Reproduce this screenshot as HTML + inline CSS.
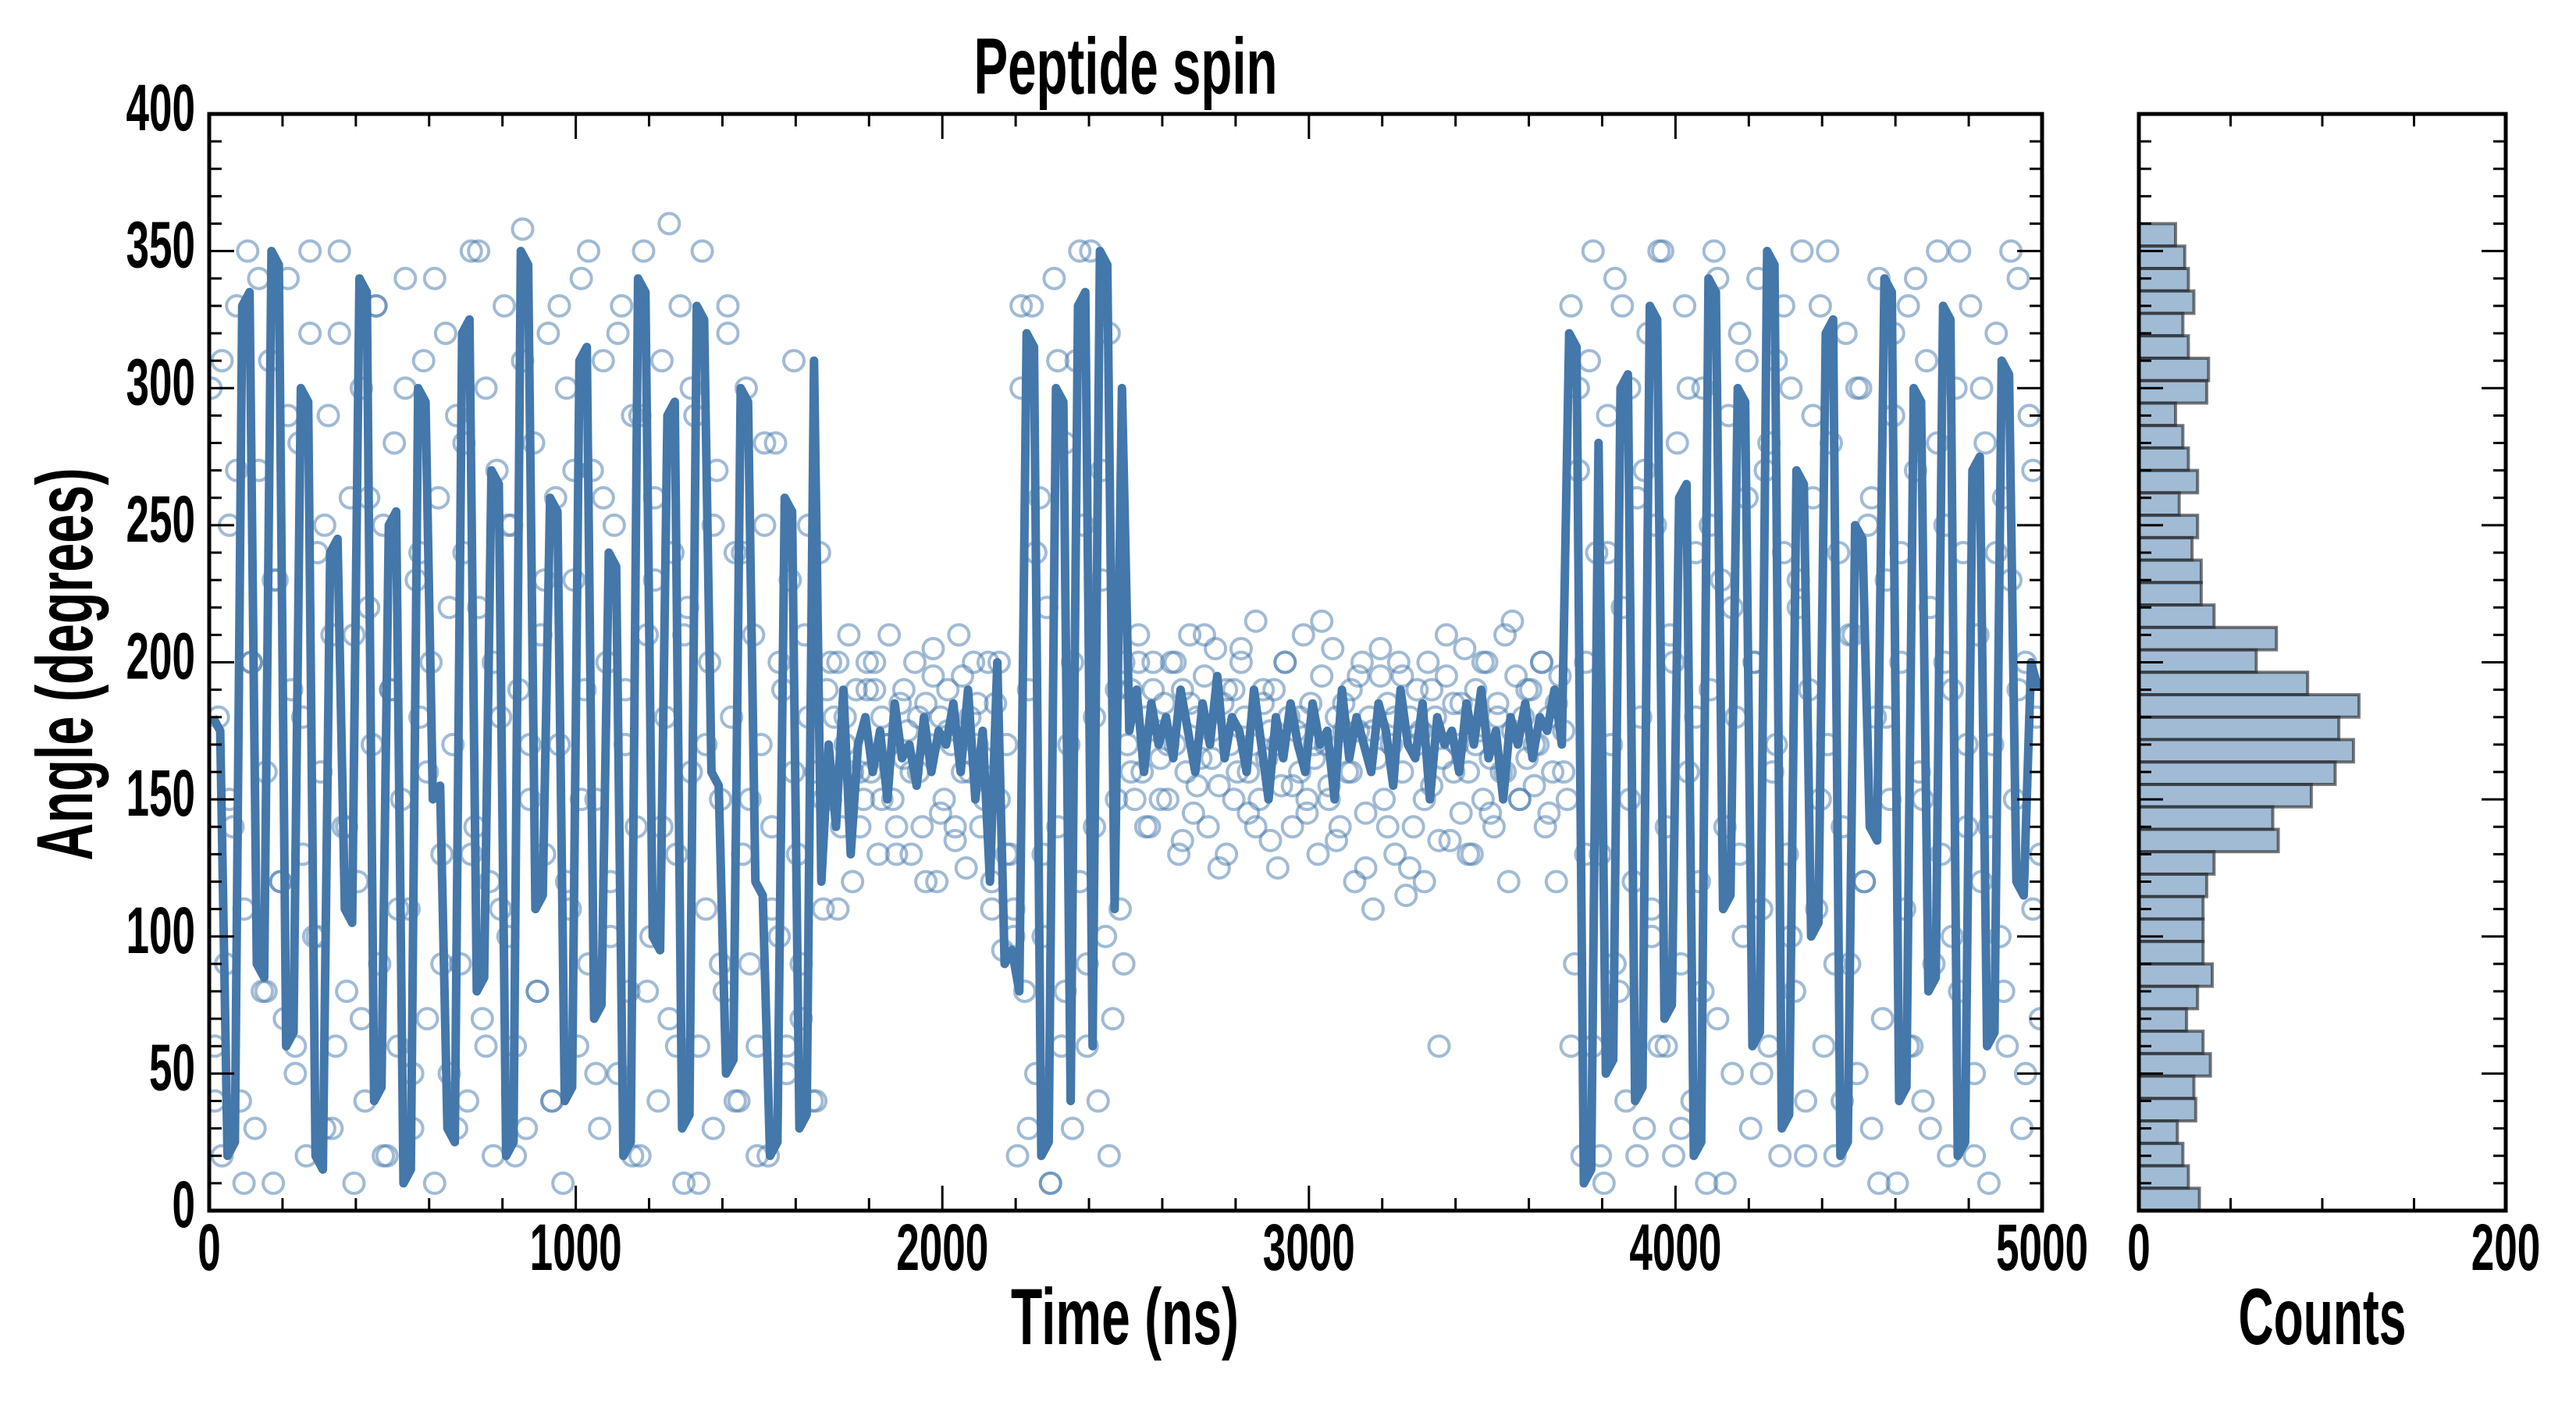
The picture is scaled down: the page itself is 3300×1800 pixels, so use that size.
<!DOCTYPE html>
<html><head><meta charset="utf-8"><title>Peptide spin</title>
<style>
html,body{margin:0;padding:0;background:#fff;}
svg{display:block;}
text{font-family:"Liberation Sans Narrow","Liberation Sans",sans-serif;font-weight:bold;fill:#000;}
</style></head>
<body>
<svg id="chart" width="3300" height="1800" viewBox="0 0 3300 1800" xmlns="http://www.w3.org/2000/svg">
  <defs>
    <clipPath id="mainClip"><rect x="268" y="146" width="2348" height="1405"/></clipPath>
  </defs>
  <rect width="3300" height="1800" fill="#fff"/>
  <g id="mainPlot"></g>
  <g id="histPlot"></g>
  <text x="1442" y="120" font-size="102" text-anchor="middle" textLength="389" lengthAdjust="spacingAndGlyphs">Peptide spin</text>
  <text x="1441" y="1722" font-size="102" text-anchor="middle" textLength="292" lengthAdjust="spacingAndGlyphs">Time (ns)</text>
  <text transform="translate(118,851) rotate(-90)" x="0" y="0" font-size="102" text-anchor="middle" textLength="503" lengthAdjust="spacingAndGlyphs">Angle (degrees)</text>
  <text x="2975" y="1722" font-size="102" text-anchor="middle" textLength="215" lengthAdjust="spacingAndGlyphs">Counts</text>
</svg>
<script>
const lineTimeStep = 20;
const lineValues = [
180,175,20,25,330,335,90,85,350,345,
60,65,300,295,20,15,240,245,110,105,
340,335,40,45,250,255,10,15,300,295,
150,155,30,25,320,325,80,85,270,265,
20,25,350,345,110,115,260,255,40,45,
310,315,70,75,240,235,20,25,340,335,
100,95,290,295,30,35,330,325,160,155,
50,55,300,295,120,115,20,25,260,255,
30,35,310,120,170,140,190,130,170,180,
160,175,150,185,165,170,155,180,160,175,
170,185,160,190,150,175,120,200,90,95,
80,320,315,20,25,300,295,40,330,335,
60,350,345,110,300,175,190,160,185,170,
180,165,190,175,160,185,170,195,165,180,
175,160,190,170,150,180,165,185,170,160,
185,170,175,150,190,165,180,170,160,185,
175,155,190,170,165,185,150,180,170,175,
160,185,170,190,165,175,150,180,170,185,
165,180,175,190,170,320,315,10,15,280,
50,55,300,305,40,45,330,325,70,75,
260,265,20,25,340,335,110,115,300,295,
60,65,350,345,30,35,270,265,100,105,
320,325,20,25,250,245,140,135,340,335,
40,45,300,295,80,85,330,325,20,25,
270,275,60,65,310,305,120,115,200,190
];
const scatterTimeStep = 10;
const scatterValues = [
300,60,180,20,90,250,140,330,40,110,
350,200,30,270,80,160,310,10,230,120,
70,340,190,50,280,130,20,320,100,240,
160,30,290,210,60,350,140,80,260,10,
120,300,40,220,170,330,90,250,20,190,
280,60,150,340,110,30,230,180,310,70,
200,10,260,130,320,50,170,290,90,240,
40,350,140,220,70,300,120,20,270,180,
330,100,250,60,190,358,30,150,280,80,
210,130,320,40,260,170,10,300,110,230,
60,340,190,90,270,150,30,310,200,120,
250,50,330,170,80,290,140,20,350,210,
100,260,40,310,180,70,240,130,330,10,
220,160,290,60,350,110,200,30,270,150,
80,320,180,240,40,130,300,90,210,60,
170,250,20,140,280,100,190,50,230,160,
130,70,210,180,40,160,240,110,190,150,
180,200,140,170,210,120,190,160,150,200,
160,190,130,180,170,210,150,140,185,165,
175,130,200,160,140,185,170,195,120,180,
150,190,170,140,210,160,125,180,200,170,
140,165,200,120,185,150,95,170,130,110,
20,300,80,190,330,50,260,100,220,10,
340,140,60,280,170,30,310,120,250,90,
350,180,40,230,100,320,70,150,110,200,
170,190,150,210,160,180,140,200,175,165,
185,150,200,170,130,190,160,210,145,180,
165,195,140,175,205,155,185,130,170,190,
160,200,180,145,170,215,150,185,165,135,
190,170,155,200,180,140,175,160,210,150,
185,165,130,195,170,150,205,180,140,175,
160,190,120,175,200,145,180,110,165,195,
150,185,170,130,200,160,115,180,140,190,
175,120,200,155,180,60,165,195,135,185,
170,145,205,160,130,190,175,150,200,165,
140,185,160,210,120,175,195,150,180,165,
190,155,170,200,140,180,160,120,195,175,
150,330,90,270,20,200,310,60,240,130,
10,290,170,340,80,220,40,300,120,260,
180,30,320,100,250,60,350,140,210,20,
280,90,330,160,40,240,120,300,10,190,
350,70,230,140,290,50,180,320,100,260,
30,200,340,110,270,60,160,310,20,240,
130,300,80,220,350,40,190,260,110,330,
60,170,280,20,240,140,320,90,210,50,
300,120,250,30,180,340,70,230,150,290,
10,200,110,330,60,270,160,40,310,220,
90,350,130,250,20,190,300,80,240,140,
330,50,210,120,280,10,170,320,100,260,
60,230,150,340,30,200,290,110,180,70
];
const scatterBTimeStep = 20;
const scatterValuesB = [
40,310,150,270,10,200,340,80,230,120,
290,60,180,350,100,250,30,320,140,210,
70,260,330,20,190,110,300,50,240,160,
340,90,220,30,280,130,350,60,200,110,
250,20,310,170,80,230,40,330,120,270,
150,350,50,260,100,320,190,20,290,80,
230,140,360,60,210,300,10,170,250,90,
330,40,240,150,20,280,110,200,60,310,
90,250,40,150,200,110,180,160,140,190,
200,150,170,130,190,160,180,120,205,145,
175,135,195,160,185,150,110,200,130,100,
330,30,240,130,10,310,80,200,350,60,
140,270,20,190,90,160,200,140,190,150,
170,200,135,185,155,210,165,125,190,150,
205,160,140,190,175,125,200,155,180,145,
170,215,155,135,185,160,195,125,175,205,
140,180,195,125,170,150,190,135,210,160,
185,130,170,200,145,180,160,215,150,190,
170,200,145,185,160,60,300,130,350,20,
240,90,330,150,20,270,110,350,60,200,
30,300,180,80,250,340,10,220,130,310,
200,50,280,170,330,100,230,20,290,150,
350,90,40,210,300,120,260,10,180,320,
240,60,340,150,30,280,200,100,350,170,
20,300,140,240,80,350,190,50,270,130
];
const histBinTop = 360;
const histBinCount = 44;
const histCountsTopDown = [20,25,27,30,24,27,38,37,20,24,27,32,22,32,29,34,34,41,75,64,92,120,109,117,107,94,73,76,41,37,35,35,35,40,32,26,35,39,30,31,21,24,27,33];
const xTickLabels = ["0","1000","2000","3000","4000","5000"];
const yTickLabels = ["0","50","100","150","200","250","300","350","400"];
const histTickLabels = ["0","200"];

const NS="http://www.w3.org/2000/svg";
const L=268,R=2616,T=146,B=1551;
const HL=2740,HR=3210;
const xScale=t=>L+(t/5000)*(R-L);
const yScale=v=>B-(v/400)*(B-T);
const hxScale=c=>HL+(c/200)*(HR-HL);
function mk(tag,attrs,parent){const e=document.createElementNS(NS,tag);for(const k in attrs)e.setAttribute(k,attrs[k]);parent.appendChild(e);return e;}
const main=document.getElementById('mainPlot');
const hist=document.getElementById('histPlot');

const sg=mk('g',{'clip-path':'url(#mainClip)'},main);


function addPoint(t,v){
  const c=mk('circle',{cx:xScale(t),cy:yScale(v),r:13,fill:'none',stroke:'#4477aa','stroke-opacity':0.5,'stroke-width':4},sg);
  
  
}
scatterValues.forEach((v,i)=>addPoint(i*scatterTimeStep+5,v));
scatterValuesB.forEach((v,i)=>addPoint(i*scatterBTimeStep+15,v));

const lg=mk('g',{'clip-path':'url(#mainClip)'},main);
let d='';
lineValues.forEach((v,i)=>{d+=(i?'L':'M')+xScale(i*lineTimeStep+10).toFixed(1)+','+yScale(v).toFixed(1);});
const path=mk('path',{d:d,fill:'none',stroke:'#4477aa','stroke-width':11,'stroke-linejoin':'round'},lg);



const tg=mk('g',{stroke:'#000','stroke-width':3},main);
for(let t=0;t<=5000;t+=200){
  const x=xScale(t), len=(t%1000===0)?32:16;
  mk('line',{x1:x,y1:B,x2:x,y2:B-len},tg);
  mk('line',{x1:x,y1:T,x2:x,y2:T+len},tg);
}
for(let v=0;v<=400;v+=10){
  const y=yScale(v), len=(v%50===0)?32:16;
  mk('line',{x1:L,y1:y,x2:L+len,y2:y},tg);
  mk('line',{x1:R,y1:y,x2:R-len,y2:y},tg);
}
const sp=mk('rect',{x:L,y:T,width:R-L,height:B-T,fill:'none',stroke:'#000','stroke-width':5},main);


xTickLabels.forEach((s,i)=>{
  const t=mk('text',{x:xScale(i*1000),y:1627,'font-size':84,'text-anchor':'middle',textLength:s.length*29.5,lengthAdjust:'spacingAndGlyphs'},main);
  t.textContent=s;
  
  
});
yTickLabels.forEach((s,i)=>{
  const t=mk('text',{x:250,y:yScale(i*50)+21,'font-size':84,'text-anchor':'end',textLength:s.length*29.5,lengthAdjust:'spacingAndGlyphs'},main);
  t.textContent=s;
  
  
});

const binW=histBinTop/histBinCount;
histCountsTopDown.forEach((c,i)=>{
  const top=histBinTop-i*binW, bot=top-binW;
  const r=mk('rect',{x:HL,y:yScale(top),width:hxScale(c)-HL,height:yScale(bot)-yScale(top),fill:'#4477aa','fill-opacity':0.5,stroke:'#222','stroke-opacity':0.6,'stroke-width':4},hist);
  
  
});
const htg=mk('g',{stroke:'#000','stroke-width':3},hist);
for(let c=50;c<200;c+=50){
  const x=hxScale(c);
  mk('line',{x1:x,y1:B,x2:x,y2:B-16},htg);
  mk('line',{x1:x,y1:T,x2:x,y2:T+16},htg);
}
for(let v=0;v<=400;v+=10){
  const y=yScale(v), len=(v%50===0)?31:16;
  mk('line',{x1:HL,y1:y,x2:HL+len,y2:y},htg);
  mk('line',{x1:HR,y1:y,x2:HR-len,y2:y},htg);
}
const hsp=mk('rect',{x:HL,y:T,width:HR-HL,height:B-T,fill:'none',stroke:'#000','stroke-width':5},hist);


histTickLabels.forEach((s,i)=>{
  const t=mk('text',{x:hxScale(i*200),y:1627,'font-size':84,'text-anchor':'middle',textLength:s.length*29.5,lengthAdjust:'spacingAndGlyphs'},hist);
  t.textContent=s;
  
  
});
</script>
</body></html>
